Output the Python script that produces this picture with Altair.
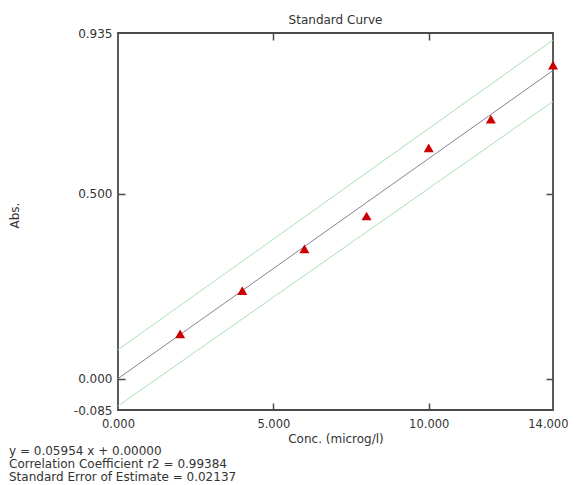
import altair as alt
import pandas as pd

# Data
conc = [2, 4, 6, 8, 10, 12, 14]
absorb = [0.121, 0.238, 0.351, 0.440, 0.624, 0.702, 0.848]
line_x = [0, 14]
fit_y = [0.0, 0.8336]
upper_y = [0.078, 0.916]
lower_y = [-0.074, 0.750]
x_ticks = [0, 5, 10, 14]
y_ticks = [-0.085, 0.0, 0.5, 0.935]
x_inner = [5, 10]
y_inner = [0.0, 0.5]
footer = [
    "y = 0.05954 x + 0.00000",
    "Correlation Coefficient r2 = 0.99384",
    "Standard Error of Estimate = 0.02137",
]

W, H = 435, 377
FONT = "DejaVu Sans"
TXT = "#333333"
FRAME = "#4a4a4a"
LBL = "replace(format(datum.value, '.3f'), '\u2212', '-')"

pts = pd.DataFrame({"x": conc, "y": absorb})
lines = pd.DataFrame({"x": line_x, "fit": fit_y, "up": upper_y, "lo": lower_y})

xs = alt.Scale(domain=[0, 14], nice=False, zero=False)
ys = alt.Scale(domain=[-0.085, 0.935], nice=False, zero=False)

common = dict(grid=False, domain=False, labelFont=FONT, titleFont=FONT,
              labelColor=TXT, titleColor=TXT, tickColor=FRAME, tickWidth=1.5)

last_x = "datum.value >= 14"
ax_bottom = alt.Axis(orient="bottom", values=x_ticks, labelExpr=LBL, ticks=False,
                     labelFontSize=11.5, labelPadding=8, labelFlush=False,
                     labelOverlap=False,
                     labelAlign={"condition": {"test": last_x, "value": "right"},
                                 "value": "center"},
                     labelOffset={"condition": {"test": last_x, "value": 15},
                                  "value": 0},
                     title="Conc. (microg/l)",
                     titleFontSize=12, titleFontWeight="normal", titleY=28,
                     titleBaseline="middle", **common)
ax_left = alt.Axis(orient="left", values=y_ticks, labelExpr=LBL, ticks=False,
                   labelFontSize=12, labelPadding=6, labelFlush=False,
                   labelOverlap=False, title="Abs.",
                   titleFontSize=12, titleFontWeight="normal", titleX=-104,
                   titleY=182, titleBaseline="middle", **common)

ax_b_in = alt.Axis(orient="top", offset=-H, values=x_inner, labels=False,
                   tickSize=7, title=None, **common)
ax_l_in = alt.Axis(orient="right", offset=-W, values=y_inner, labels=False,
                   tickSize=7, title=None, **common)
ax_t_in = alt.Axis(orient="bottom", offset=-H, values=x_inner, labels=False,
                   tickSize=7, title=None, **common)
ax_r_in = alt.Axis(orient="left", offset=-W, values=y_inner, labels=False,
                   tickSize=7, title=None, **common)

points = alt.Chart(pts).mark_point(shape="triangle-up", filled=True, size=100,
                                   color="#cc0000", opacity=1).encode(
    x=alt.X("x:Q", scale=xs, axis=ax_bottom),
    y=alt.Y("y:Q", scale=ys, axis=ax_left),
)

fit = alt.Chart(lines).mark_line(color="#8c7f96", strokeWidth=1, clip=True).encode(
    x=alt.X("x:Q", scale=xs, axis=ax_b_in),
    y=alt.Y("fit:Q", scale=ys, axis=ax_l_in),
)

up = alt.Chart(lines).mark_line(color="#a9e0b2", strokeWidth=1, clip=True).encode(
    x=alt.X("x:Q", scale=xs, axis=ax_t_in),
    y=alt.Y("up:Q", scale=ys, axis=ax_r_in),
)

lo = alt.Chart(lines).mark_line(color="#a9e0b2", strokeWidth=1, clip=True).encode(
    x=alt.X("x:Q", scale=xs, axis=None),
    y=alt.Y("lo:Q", scale=ys, axis=None),
)

foot = alt.Chart(pd.DataFrame({"k": [0]})).mark_text(
    align="left", baseline="top", font=FONT, fontSize=12, color=TXT,
    lineHeight=13,
).encode(
    x=alt.value(-109), y=alt.value(413), text=alt.value(footer),
)

chart = alt.layer(lo, up, fit, points, foot).resolve_axis(
    x="independent", y="independent"
).properties(
    width=W, height=H,
    title=alt.TitleParams("Standard Curve", fontSize=12, fontWeight="normal",
                          font=FONT, color=TXT, anchor="middle", offset=0),
    padding={"left": 110, "top": 25, "right": 15, "bottom": 77},
    autosize=alt.AutoSizeParams(type="none"),
).configure_view(stroke=FRAME, strokeWidth=1.8)

chart.save("out.html", embed_options={"renderer": "svg", "actions": False})
